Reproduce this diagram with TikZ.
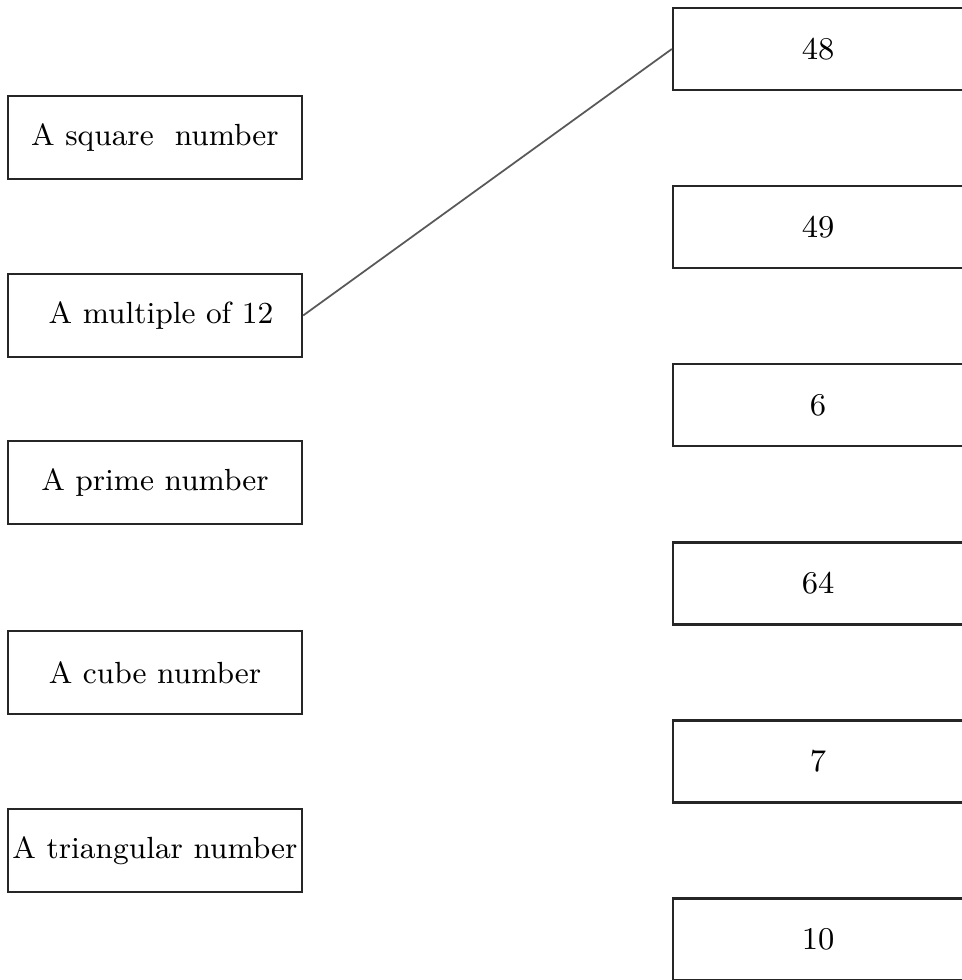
\documentclass[tikz,border=0pt]{standalone}
\usepackage{tikz}

\begin{document}
\begin{tikzpicture}[x=0.01cm,y=-0.01cm,
  lbox/.style={draw=black!85,line width=0.6pt,minimum width=2.94cm,minimum height=0.83cm,inner sep=0pt,font=\fontsize{8.7}{10}\selectfont},
  rbox/.style={draw=black!85,line width=0.6pt,minimum width=2.9cm,minimum height=0.82cm,inner sep=0pt,font=\fontsize{9}{10}\selectfont}]
\useasboundingbox (0,0) rectangle (962,980);
\clip (0,0) rectangle (962,980);
% left column
\node [lbox] (square) at (155,137.5) {A square\ \ number};
\node [lbox] (mult) at (155,315.5) {\hspace{0.12cm}A multiple of 12};
\node [lbox] (prime) at (155,482.5) {A prime number\hspace{0.25cm}};
\node [lbox] (cube) at (155,672.5) {A cube number};
\node [lbox] (tri) at (155,850.5) {A triangular number};
% right column
\node [rbox] (n48) at (818,49) {48};
\node [rbox] (n49) at (818,227) {49};
\node [rbox] (n6) at (818,405) {6};
\node [rbox] (n64) at (818,583.5) {64};
\node [rbox] (n7) at (818,761.5) {7};
\node [rbox] (n10) at (818,939.5) {10};
\draw [black!65,line width=0.5pt] (mult.east) -- (n48.west);
\end{tikzpicture}
\end{document}
